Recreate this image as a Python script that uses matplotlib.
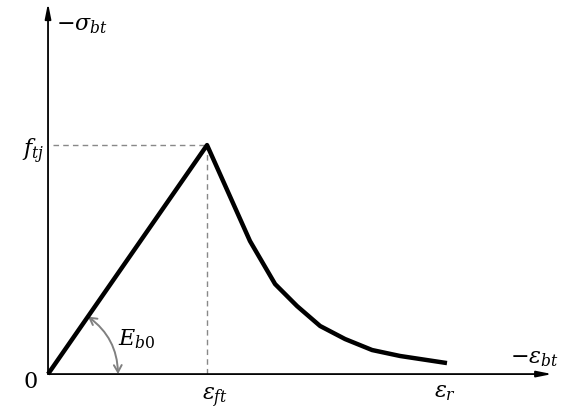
import numpy as np
import matplotlib
matplotlib.use("Agg")
import matplotlib.pyplot as plt
from matplotlib.patches import FancyArrowPatch

plt.rcParams['mathtext.fontset'] = 'dejavuserif'
plt.rcParams['font.family'] = 'DejaVu Serif'

# softening law, normalised: strain / eps_ft, stress / f_tj
eps = [0.0, 1.0, 1.270, 1.428, 1.566, 1.711, 1.868, 2.038, 2.214, 2.509]
sig = [0.0, 1.0, 0.581, 0.393, 0.297, 0.210, 0.153, 0.105, 0.079, 0.048]
eps_ft = 1.0
f_tj = 1.0
eps_r = 2.509

fig = plt.figure(figsize=(5.68, 4.14), dpi=100)
ax = fig.add_axes([0, 0, 1, 1])
ax.set_xlim(-0.302, 3.270)
ax.set_ylim(-0.170, 1.638)
ax.axis('off')

# axes with arrow heads
ax.annotate('', xy=(3.170, 0), xytext=(0, 0),
            arrowprops=dict(arrowstyle='-|>,head_length=0.9,head_width=0.18',
                            lw=1.3, color='black', shrinkA=0, shrinkB=0))
ax.annotate('', xy=(0, 1.620), xytext=(0, 0),
            arrowprops=dict(arrowstyle='-|>,head_length=0.9,head_width=0.18',
                            lw=1.3, color='black', shrinkA=0, shrinkB=0))

# guide lines to the peak
ax.plot([0.03, eps_ft], [f_tj, f_tj], ls=(0, (4, 3)), color='#888888', lw=1)
ax.plot([eps_ft, eps_ft], [0, f_tj], ls=(0, (4, 3)), color='#888888', lw=1)

ax.plot(eps, sig, color='black', lw=3.2, solid_joinstyle='round',
        solid_capstyle='butt', zorder=3)

# initial modulus arc
ang = np.arctan2(229 * f_tj, 159 * eps_ft)
r = 70
pa = (r * np.cos(ang) / 159, r * np.sin(ang) / 229)
pb = (r / 159, 0.0)
arc = FancyArrowPatch(pa, pb, connectionstyle='arc3,rad=-0.245',
                      arrowstyle='<->,head_length=5,head_width=2.8',
                      color='#808080', lw=1.4, shrinkA=0, shrinkB=0)
ax.add_patch(arc)

fs = 16
ax.text(0.05, 1.53, r'$-\sigma_{bt}$', fontsize=fs, ha='left', va='center')
ax.text(-0.02, f_tj - 0.025, r'$f_{tj}$', fontsize=fs, ha='right', va='center')
ax.text(-0.11, -0.03, '0', fontsize=fs, ha='center', va='center')
ax.text(eps_ft + 0.05, -0.10, r'$\varepsilon_{ft}$', fontsize=fs, ha='center', va='center')
ax.text(eps_r - 0.01, -0.075, r'$\varepsilon_{r}$', fontsize=fs, ha='center', va='center')
ax.text(3.06, 0.075, r'$-\varepsilon_{bt}$', fontsize=fs, ha='center', va='center')
ax.text(0.56, 0.155, r'$E_{b0}$', fontsize=fs, ha='center', va='center')

fig.savefig('out.png', dpi=100)
